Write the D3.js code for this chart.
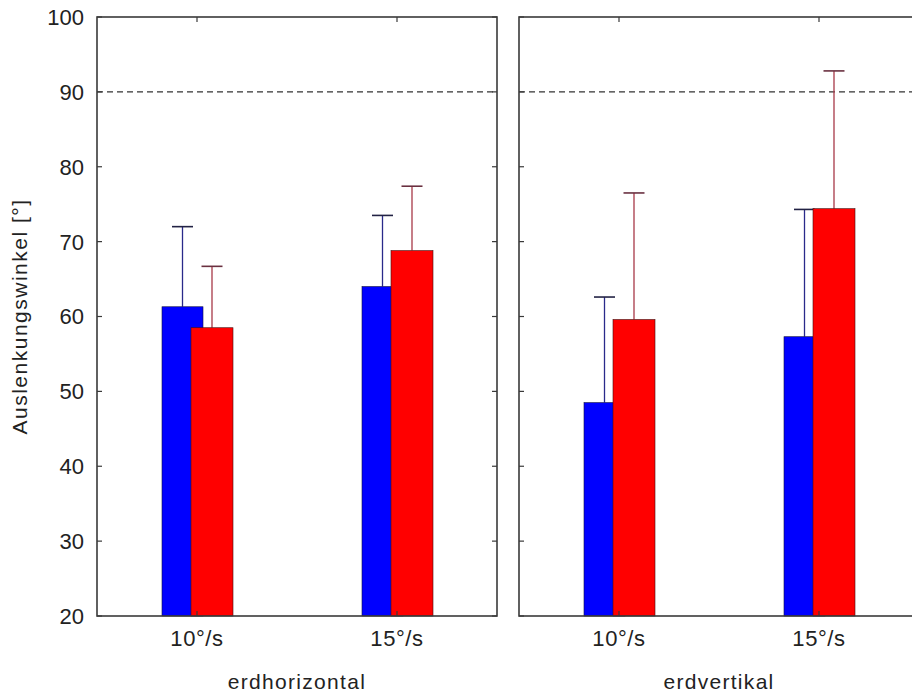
<!DOCTYPE html>
<html>
<head>
<meta charset="utf-8">
<script src="https://cdn.jsdelivr.net/npm/d3@7"></script>
<style>
  body { margin: 0; background: #fff; }
  text { font-family: Arial, "Liberation Sans", sans-serif; fill: #222; }
</style>
</head>
<body>
<div id="chart"></div>
<script>
// Data
// ================================
var panels = ["erdhorizontal", "erdvertikal"];
var categories = ["10°/s", "15°/s"];
var yTicks = [20, 30, 40, 50, 60, 70, 80, 90, 100];
var refLine = 90;

// blue series (mean, sd) per panel
var blueMeans = [[61.3, 64.0], [48.5, 57.3]];
var blueSD = [[10.7, 9.5], [14.1, 17.0]];
// red series (mean, sd) per panel
var redMeans = [[58.5, 68.8], [59.6, 74.4]];
var redSD = [[8.2, 8.6], [16.9, 18.4]];

// Layout
// ================================
var svgWidth = 912;
var svgHeight = 693;
var plotTop = 17;
var plotBottom = 616;
var panelWidth = 400;
var panelLeft = [97, 519];

var svg = d3
  .select("#chart")
  .append("svg")
  .attr("width", svgWidth)
  .attr("height", svgHeight);

var yScale = d3.scaleLinear().domain([20, 100]).range([plotBottom, plotTop]);

var xScale = d3
  .scalePoint()
  .domain(categories)
  .range([0, panelWidth])
  .padding(0.5);

var axisColor = "#3a3a3a";

// y tick labels (only on left panel)
svg
  .append("g")
  .selectAll("text")
  .data(yTicks)
  .enter()
  .append("text")
  .attr("x", 84)
  .attr("y", (d) => yScale(d))
  .attr("dy", "0.36em")
  .attr("text-anchor", "end")
  .style("font-size", "22px")
  .text((d) => d);

// y axis title
svg
  .append("text")
  .attr("transform", `translate(27, ${(plotTop + plotBottom) / 2}) rotate(-90)`)
  .attr("text-anchor", "middle")
  .style("font-size", "21px")
  .style("letter-spacing", "1.5px")
  .text("Auslenkungswinkel [°]");

panels.forEach(function (name, p) {
  var g = svg.append("g").attr("transform", `translate(${panelLeft[p]}, 0)`);

  var bars = categories.map(function (c, i) {
    return {
      cat: c,
      blue: blueMeans[p][i],
      blueSd: blueSD[p][i],
      red: redMeans[p][i],
      redSd: redSD[p][i],
    };
  });

  // dashed reference line
  g.append("line")
    .attr("x1", 0)
    .attr("x2", panelWidth)
    .attr("y1", yScale(refLine))
    .attr("y2", yScale(refLine))
    .attr("stroke", "#333")
    .attr("stroke-width", 1.3)
    .attr("stroke-dasharray", "6,4");

  var blueX = (d) => xScale(d.cat) - 14.5;
  var redX = (d) => xScale(d.cat) + 15;

  // error bars
  g.selectAll(".blue-err")
    .data(bars)
    .enter()
    .append("line")
    .attr("x1", blueX)
    .attr("x2", blueX)
    .attr("y1", (d) => yScale(d.blue))
    .attr("y2", (d) => yScale(d.blue + d.blueSd))
    .attr("stroke", "#2a2a8a")
    .attr("stroke-width", 1.3);

  g.selectAll(".blue-cap")
    .data(bars)
    .enter()
    .append("line")
    .attr("x1", (d) => blueX(d) - 10.5)
    .attr("x2", (d) => blueX(d) + 10.5)
    .attr("y1", (d) => yScale(d.blue + d.blueSd))
    .attr("y2", (d) => yScale(d.blue + d.blueSd))
    .attr("stroke", "#222244")
    .attr("stroke-width", 1.6);

  g.selectAll(".red-err")
    .data(bars)
    .enter()
    .append("line")
    .attr("x1", redX)
    .attr("x2", redX)
    .attr("y1", (d) => yScale(d.red))
    .attr("y2", (d) => yScale(d.red + d.redSd))
    .attr("stroke", "#a83848")
    .attr("stroke-width", 1.3);

  g.selectAll(".red-cap")
    .data(bars)
    .enter()
    .append("line")
    .attr("x1", (d) => redX(d) - 10.5)
    .attr("x2", (d) => redX(d) + 10.5)
    .attr("y1", (d) => yScale(d.red + d.redSd))
    .attr("y2", (d) => yScale(d.red + d.redSd))
    .attr("stroke", "#6a3040")
    .attr("stroke-width", 1.6);

  // blue bars, red bars drawn over them
  g.selectAll(".blue-bar")
    .data(bars)
    .enter()
    .append("rect")
    .attr("x", (d) => xScale(d.cat) - 35)
    .attr("width", 41)
    .attr("y", (d) => yScale(d.blue))
    .attr("height", (d) => plotBottom - yScale(d.blue))
    .attr("fill", "#0000ff")
    .attr("stroke", "#101040")
    .attr("stroke-width", 0.6);

  g.selectAll(".red-bar")
    .data(bars)
    .enter()
    .append("rect")
    .attr("x", (d) => xScale(d.cat) - 6)
    .attr("width", 42)
    .attr("y", (d) => yScale(d.red))
    .attr("height", (d) => plotBottom - yScale(d.red))
    .attr("fill", "#ff0000")
    .attr("stroke", "#401010")
    .attr("stroke-width", 0.6);

  // frame
  g.append("rect")
    .attr("x", 0)
    .attr("y", plotTop)
    .attr("width", panelWidth)
    .attr("height", plotBottom - plotTop)
    .attr("fill", "none")
    .attr("stroke", axisColor)
    .attr("stroke-width", 1.6);

  // inward ticks
  var yt = g.append("g");
  yt.selectAll(".ytl")
    .data(yTicks)
    .enter()
    .append("line")
    .attr("x1", 0)
    .attr("x2", 5)
    .attr("y1", (d) => yScale(d))
    .attr("y2", (d) => yScale(d))
    .attr("stroke", axisColor)
    .attr("stroke-width", 1.2);
  yt.selectAll(".ytr")
    .data(yTicks)
    .enter()
    .append("line")
    .attr("x1", panelWidth)
    .attr("x2", panelWidth - 5)
    .attr("y1", (d) => yScale(d))
    .attr("y2", (d) => yScale(d))
    .attr("stroke", axisColor)
    .attr("stroke-width", 1.2);

  var xt = g.append("g");
  xt.selectAll(".xtb")
    .data(categories)
    .enter()
    .append("line")
    .attr("x1", (d) => xScale(d))
    .attr("x2", (d) => xScale(d))
    .attr("y1", plotBottom)
    .attr("y2", plotBottom - 5)
    .attr("stroke", axisColor)
    .attr("stroke-width", 1.2);
  xt.selectAll(".xtt")
    .data(categories)
    .enter()
    .append("line")
    .attr("x1", (d) => xScale(d))
    .attr("x2", (d) => xScale(d))
    .attr("y1", plotTop)
    .attr("y2", plotTop + 5)
    .attr("stroke", axisColor)
    .attr("stroke-width", 1.2);

  // category labels
  g.selectAll(".xlab")
    .data(categories)
    .enter()
    .append("text")
    .attr("x", (d) => xScale(d))
    .attr("y", 646)
    .attr("text-anchor", "middle")
    .style("font-size", "22px")
    .style("letter-spacing", "0.6px")
    .text((d) => d);

  // panel label
  g.append("text")
    .attr("x", panelWidth / 2)
    .attr("y", 689)
    .attr("text-anchor", "middle")
    .style("font-size", "21px")
    .style("letter-spacing", "1.3px")
    .text(name);
});
</script>
</body>
</html>
